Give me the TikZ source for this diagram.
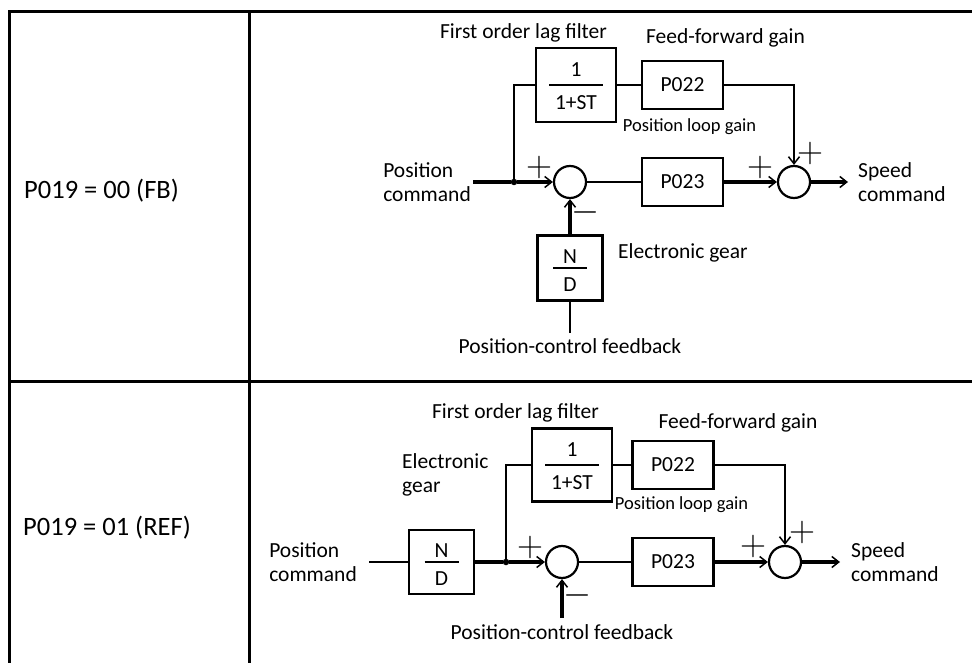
\documentclass[tikz,border=0pt]{standalone}
\usepackage{graphicx}
\usepackage{fontspec}
\setmainfont{Carlito}
\usepackage{tikz}
\usetikzlibrary{arrows.meta,positioning,calc}
\tikzset{
    block/.style={draw, line width=2.6pt, minimum width=81pt, minimum height=48pt, inner sep=0pt, font=\fontsize{21.5}{24}\selectfont},
    sum/.style={circle, draw, line width=2.2pt, minimum size=32pt, inner sep=0pt},
    dot/.style={circle, fill=black, minimum size=6.5pt, inner sep=0pt},
    txt/.style={font=\fontsize{21.5}{23.5}\selectfont, inner sep=0pt, align=left},
    smalltxt/.style={font=\fontsize{18.5}{20}\selectfont, inner sep=0pt},
    rowtxt/.style={font=\fontsize{26.5}{28}\selectfont, inner sep=0pt},
    sign/.style={font=\fontsize{24}{24}\selectfont, inner sep=0pt},
    wire/.style={draw, line width=1.5pt},
    bus/.style={draw, line width=3.1pt},
    frame/.style={line width=3pt},
}

\begin{document}
\begin{tikzpicture}[x=1pt, y=-1pt, >={Straight Barb[length=7pt,width=11pt,line width=1.5pt]}]
        \useasboundingbox (0,0) rectangle (972,663);

        \draw[frame] (9,663) -- (9,12) -- (972,12);
        \draw[frame] (249,12) -- (249,663);
        \draw[frame] (9,381) -- (972,381);
        \node[rowtxt, anchor=base west] (modefb) at (24,199) {P019 = 00 (FB)};
        \node[rowtxt, anchor=base west] (moderef) at (23,535) {P019 = 01 (REF)};

        % P019 = 00 (FB)
        \node[sum] (sa1) at (570,182) {};
        \node[sum] (sb1) at (794,182) {};
        \node[block, minimum width=80pt, minimum height=74pt] (lag1) at (576,85) {};
        \node[block] (ff1) at (682.5,85) {P022};
        \node[block] (pg1) at (682.5,182) {P023};
        \node[block, minimum width=65pt, minimum height=65pt] (gear1) at (570,268) {};
        \node[dot] (br1) at (514,182) {};
        \coordinate (in1) at (473,182);
        \coordinate (out1) at (848,182);
        \coordinate (fb1) at (570,333);

        \draw[bus] (in1) -- (br1);
        \draw[bus,->] (br1) -- (sa1);
        \draw[wire] (br1) |- (lag1.west);
        \draw[wire] (lag1) -- (ff1);
        \draw[wire,->] (ff1) -| (sb1);
        \draw[wire] (sa1) -- (pg1);
        \draw[bus,->] (pg1) -- (sb1);
        \draw[bus,->] (sb1) -- (out1);
        \draw[bus,->] (gear1) -- (sa1);
        \draw[wire] (fb1) -- (gear1);

        \node[txt] (lagname1) at (523.5,33) {First order lag filter};
        \node[txt] (ffname1) at (725.5,38) {Feed-forward gain};
        \node[smalltxt] (pgname1) at (689.5,127) {Position loop gain};
        \node[txt, anchor=west] (gearname1) at (618,253) {Electronic gear};
        \node[txt, below=5pt of fb1] (fbname1) {Position-control feedback};
        \node[txt, left=2pt of in1] (inname1) {Position\\command};
        \node[txt, right=10pt of out1] (outname1) {Speed\\command};

        % P019 = 01 (REF)
        \node[sum] (sa2) at (562,562) {};
        \node[sum] (sb2) at (785,562) {};
        \node[block, minimum width=80pt, minimum height=73pt] (lag2) at (572,465) {};
        \node[block] (ff2) at (673,465) {P022};
        \node[block] (pg2) at (673,562) {P023};
        \node[block, minimum width=65pt, minimum height=64pt] (gear2) at (441.5,562) {};
        \node[dot] (br2) at (506,562) {};
        \coordinate (in2) at (369,562);
        \coordinate (out2) at (840,562);
        \coordinate (fb2) at (562,618);

        \draw[wire] (in2) -- (gear2);
        \draw[bus] (gear2) -- (br2);
        \draw[bus,->] (br2) -- (sa2);
        \draw[wire] (br2) |- (lag2.west);
        \draw[wire] (lag2) -- (ff2);
        \draw[wire,->] (ff2) -| (sb2);
        \draw[wire] (sa2) -- (pg2);
        \draw[bus,->] (pg2) -- (sb2);
        \draw[bus,->] (sb2) -- (out2);
        \draw[bus,->] (fb2) -- (sa2);

        \node[txt] (lagname2) at (515.5,413) {First order lag filter};
        \node[txt] (ffname2) at (738,423) {Feed-forward gain};
        \node[smalltxt] (pgname2) at (681.5,505) {Position loop gain};
        \node[txt, anchor=west] (gearname2) at (402,475) {Electronic\\gear};
        \node[txt, below=6pt of fb2] (fbname2) {Position-control feedback};
        \node[txt, left=12pt of in2] (inname2) {Position\\command};
        \node[txt, right=11pt of out2] (outname2) {Speed\\command};

        % fractions inside the blocks
        \foreach \blk in {lag1, lag2} {
            \node[txt] (\blk num) at ([yshift=15pt]\blk.center) {1};
            \node[txt] (\blk den) at ([yshift=-18pt]\blk.center) {1+ST};
            \draw[wire] ([xshift=-27pt]\blk.center) -- ([xshift=27pt]\blk.center);
        }
        \foreach \blk in {gear1, gear2} {
            \node[txt] (\blk num) at ([yshift=11pt]\blk.center) {N};
            \node[txt] (\blk den) at ([yshift=-17pt]\blk.center) {D};
            \draw[wire] ([xshift=-17pt]\blk.center) -- ([xshift=17pt]\blk.center);
        }

        \foreach \name/\x/\y/\s in {pa1/539/167/+, pb1/760/167/+, pc1/810/153/+, ma1/586/212/-,
                                   pa2/530/547/+, pb2/753/546/+, pc2/802/532/+, ma2/578/595/-}
            \node[sign] (\name) at (\x,\y) {\scalebox{1.45}{$\s$}};
    \end{tikzpicture}
\end{document}
